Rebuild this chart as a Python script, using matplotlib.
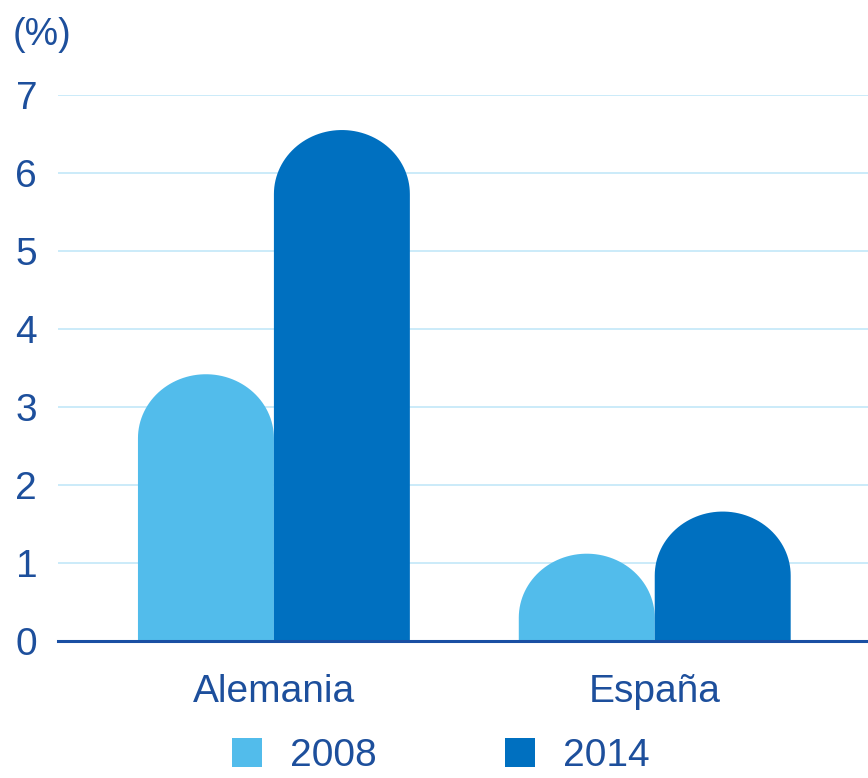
import matplotlib
matplotlib.use('Agg')
import matplotlib.pyplot as plt
import numpy as np
from matplotlib.path import Path
from matplotlib.patches import PathPatch, Patch

plt.rcParams['font.family'] = ['Liberation Sans', 'DejaVu Sans']

categories = ['Alemania', 'España']
years = ['2008', '2014']
values_2008 = [3.42, 1.12]
values_2014 = [6.55, 1.66]
yticks = [0, 1, 2, 3, 4, 5, 6, 7]

colors = ['#52BCEB', '#0070C0']
text_color = '#1D4F9C'
grid_color = '#C2E7F8'

fig = plt.figure(figsize=(8.68, 7.78), dpi=100)
ax = fig.add_axes([0.0668, 0.176, 0.9332, 0.702])

bar_w = 0.357
cap_h = 0.82  # height of the rounded top, in data units


def rounded_bar(ax, xc, height, width, color):
    h = min(cap_h, height)
    t = np.linspace(0, np.pi, 60)
    xs = xc + (width / 2) * np.cos(t)
    ys = height - h + h * np.sin(t)
    verts = [(xc + width / 2, 0)] + list(zip(xs, ys)) + [(xc - width / 2, 0), (xc + width / 2, 0)]
    codes = [Path.MOVETO] + [Path.LINETO] * (len(verts) - 2) + [Path.CLOSEPOLY]
    ax.add_patch(PathPatch(Path(verts, codes), facecolor=color, edgecolor='none',
                           zorder=3, clip_on=False))


x = np.arange(len(categories))
for i in range(len(categories)):
    rounded_bar(ax, x[i] - bar_w / 2, values_2008[i], bar_w, colors[0])
    rounded_bar(ax, x[i] + bar_w / 2, values_2014[i], bar_w, colors[1])

ax.set_xlim(-0.567, 1.56)
ax.set_ylim(0, 7)
ax.set_yticks(yticks)
ax.set_yticklabels([str(v) for v in yticks], va='bottom')
ax.set_xticks(x)
ax.set_xticklabels(categories)
ax.tick_params(axis='y', length=0, pad=15, labelsize=28, labelcolor=text_color)
ax.tick_params(axis='x', length=0, pad=24, labelsize=28, labelcolor=text_color)
for lab in ax.get_yticklabels():
    lab.set_verticalalignment('center_baseline')

ax.grid(axis='y', color=grid_color, linewidth=1.2, zorder=0)
ax.set_axisbelow(True)
for s in ['top', 'right', 'left']:
    ax.spines[s].set_visible(False)
ax.spines['bottom'].set_color('#1A4FA3')
ax.spines['bottom'].set_linewidth(2.2)
ax.spines['bottom'].set_zorder(4)

fig.text(0.014, 0.955, '(%)', fontsize=27, color=text_color, va='center', ha='left')

handles = [Patch(facecolor=colors[0], edgecolor='none'),
           Patch(facecolor=colors[1], edgecolor='none')]
leg = fig.legend(handles, years, loc='center', bbox_to_anchor=(0.508, 0.028), ncol=2,
                 frameon=False, fontsize=28, handlelength=0.77, handleheight=0.77,
                 handletextpad=0.72, columnspacing=3.3, borderpad=0)
for t in leg.get_texts():
    t.set_color(text_color)

fig.savefig('out.png', dpi=100)
